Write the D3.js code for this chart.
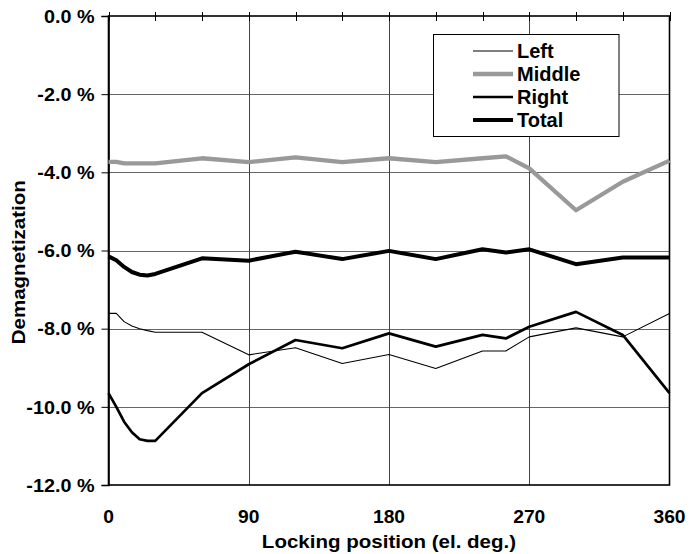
<!DOCTYPE html>
<html>
<head>
<meta charset="utf-8">
<script src="https://cdn.jsdelivr.net/npm/d3@7"></script>
<style>
  html, body { margin: 0; padding: 0; background: #fff; }
  svg { display: block; }
  text { font-family: "Liberation Sans", Arial, sans-serif; font-weight: bold; fill: #000; }
</style>
</head>
<body>
<svg id="chart" width="690" height="554"></svg>
<script>
// ---- data ----
const positions = [0, 5, 10, 15, 20, 25, 30, 60, 90, 120, 150, 180, 210, 240, 255, 270, 300, 330, 360];
const leftVals   = [-7.61, -7.61, -7.82, -7.93, -8.00, -8.05, -8.09, -8.09, -8.67, -8.49, -8.89, -8.66, -9.02, -8.57, -8.57, -8.21, -7.98, -8.21, -7.61];
const middleVals = [-3.73, -3.73, -3.77, -3.77, -3.77, -3.77, -3.77, -3.64, -3.74, -3.62, -3.74, -3.64, -3.74, -3.64, -3.59, -3.90, -4.97, -4.24, -3.70];
const rightVals  = [-9.65, -10.00, -10.38, -10.65, -10.83, -10.87, -10.87, -9.65, -8.91, -8.29, -8.50, -8.12, -8.46, -8.16, -8.25, -7.95, -7.57, -8.16, -9.65];
const totalVals  = [-6.15, -6.25, -6.42, -6.55, -6.62, -6.64, -6.60, -6.20, -6.26, -6.03, -6.22, -6.01, -6.22, -5.97, -6.05, -5.97, -6.35, -6.18, -6.18];
const seriesNames = ["Left", "Middle", "Right", "Total"];
const xTickLabels = [0, 90, 180, 270, 360];
const xMinorTicks = [0, 30, 60, 90, 120, 150, 180, 210, 240, 270, 300, 330, 360];
const yTicks = [0, -2, -4, -6, -8, -10, -12];
const xTitle = "Locking position (el. deg.)";
const yTitle = "Demagnetization";

// ---- styles ----
const styles = {
  Left:   { color: "#000", width: 1.1 },
  Middle: { color: "#999", width: 4.3 },
  Right:  { color: "#000", width: 2.7 },
  Total:  { color: "#000", width: 4 }
};

const svg = d3.select("#chart");
const x = d3.scaleLinear().domain([0, 360]).range([108.5, 669.5]);
const y = d3.scaleLinear().domain([-12, 0]).range([485, 16]);

function stretch(sel, f) {
  sel.each(function () {
    const w = this.getComputedTextLength();
    d3.select(this).attr("textLength", w * f).attr("lengthAdjust", "spacingAndGlyphs");
  });
}

// gridlines
const grid = svg.append("g");
grid.selectAll("line.h").data(yTicks.filter(v => v < 0 && v > -12)).join("line")
  .attr("x1", x(0)).attr("x2", x(360))
  .attr("y1", d => Math.round(y(d)) + 0.5).attr("y2", d => Math.round(y(d)) + 0.5)
  .attr("stroke", "#666").attr("stroke-width", 1);
grid.selectAll("line.v").data(xTickLabels.filter(v => v > 0 && v < 360)).join("line")
  .attr("x1", d => Math.round(x(d)) + 0.5).attr("x2", d => Math.round(x(d)) + 0.5)
  .attr("y1", y(0)).attr("y2", y(-12))
  .attr("stroke", "#444").attr("stroke-width", 1);

// plot border
svg.append("rect")
  .attr("x", x(0)).attr("y", y(0))
  .attr("width", x(360) - x(0)).attr("height", y(-12) - y(0))
  .attr("fill", "none").attr("stroke", "#000").attr("stroke-width", 1.6);

// top axis tick marks (crossing)
svg.append("g").selectAll("line").data(xMinorTicks).join("line")
  .attr("x1", d => Math.round(x(d)) + 0.5).attr("x2", d => Math.round(x(d)) + 0.5)
  .attr("y1", y(0) - 4).attr("y2", y(0) + 5)
  .attr("stroke", "#000").attr("stroke-width", 1);

// y axis
const yAxis = d3.axisLeft(y).tickValues(yTicks).tickSize(7).tickPadding(7)
  .tickFormat(d => d.toFixed(1) + " %");
const gy = svg.append("g").attr("transform", `translate(${x(0)},0)`).call(yAxis);
gy.select(".domain").attr("stroke", "#000").attr("stroke-width", 1.6);
gy.selectAll(".tick line").attr("stroke", "#000");
gy.selectAll(".tick text")
  .style("font-size", "17.5px").style("font-family", '"Liberation Sans", Arial, sans-serif')
  .style("font-weight", "bold").attr("fill", "#000").attr("dy", "0.36em");
stretch(gy.selectAll(".tick text"), 1.13);

// x labels (bottom)
const xl = svg.append("g").selectAll("text").data(xTickLabels).join("text")
  .attr("x", d => x(d)).attr("y", 523)
  .attr("text-anchor", "middle").style("font-size", "17.5px")
  .text(d => d);
stretch(xl, 1.1);

// axis titles
const xt = svg.append("text").attr("x", x(180)).attr("y", 548)
  .attr("text-anchor", "middle").style("font-size", "18px").text(xTitle);
stretch(xt, 1.14);
const yt = svg.append("text").attr("transform", `translate(24.5,${y(-6.3)}) rotate(-90)`)
  .attr("text-anchor", "middle").style("font-size", "18px").text(yTitle);
stretch(yt, 1.14);

// series lines
const valuesBy = { Left: leftVals, Middle: middleVals, Right: rightVals, Total: totalVals };
const line = d3.line().x(d => x(d[0])).y(d => y(d[1]));
const drawOrder = ["Left", "Right", "Middle", "Total"];
drawOrder.forEach(name => {
  const data = positions.map((p, i) => [p, valuesBy[name][i]]);
  svg.append("path").datum(data)
    .attr("d", line).attr("fill", "none")
    .attr("stroke", styles[name].color).attr("stroke-width", styles[name].width)
    .attr("stroke-linejoin", "round").attr("stroke-linecap", "butt");
});

// legend
const lg = svg.append("g");
lg.append("rect").attr("x", 433.5).attr("y", 34.5).attr("width", 185.5).attr("height", 102)
  .attr("fill", "#fff").attr("stroke", "#000").attr("stroke-width", 1);
const rowY = d3.scalePoint().domain(seriesNames).range([51, 120]);
seriesNames.forEach(name => {
  lg.append("line").attr("x1", 473).attr("x2", 513)
    .attr("y1", rowY(name)).attr("y2", rowY(name))
    .attr("stroke", styles[name].color).attr("stroke-width", styles[name].width);
  lg.append("text").attr("x", 517).attr("y", rowY(name)).attr("dy", "0.36em")
    .style("font-size", "20px").text(name);
});
</script>
</body>
</html>
